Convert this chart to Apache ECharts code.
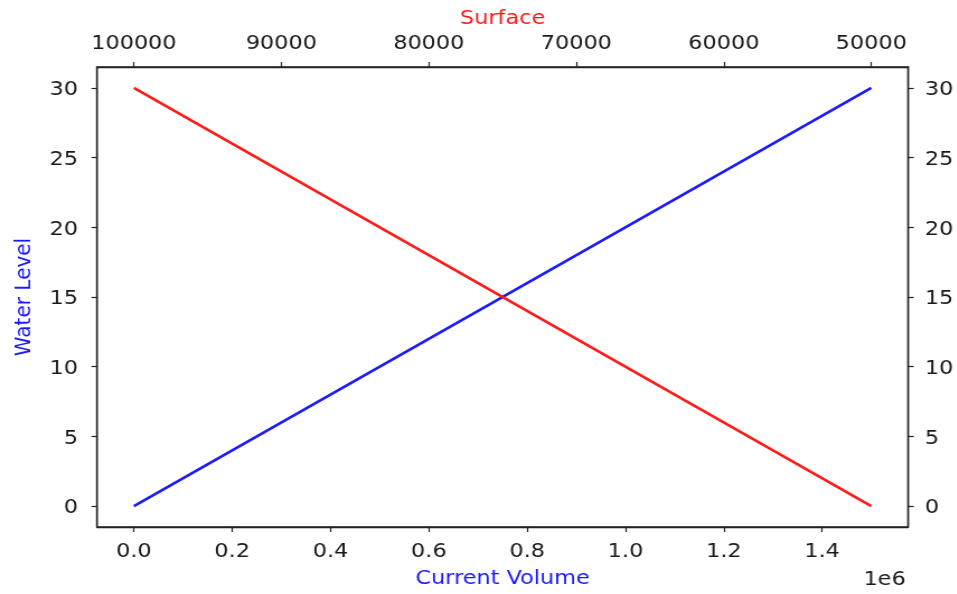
<!DOCTYPE html>
<html>
<head>
<meta charset="utf-8">
<script src="https://cdn.jsdelivr.net/npm/echarts@6/dist/echarts.min.js"></script>
<style>
  html, body { margin: 0; padding: 0; background: #fff; overflow: hidden; }
  #frame { width: 957px; height: 594px; overflow: hidden; position: relative; }
  /* drawn on a narrower canvas and widened to the 957px frame */
  #chart { width: 855px; height: 594px; transform: scaleX(1.119); transform-origin: 0 0; }
</style>
</head>
<body>
<div id="frame"><div id="chart"></div></div>
<script>
// Reservoir curves: level vs. stored volume (bottom axis) and vs. surface (top axis)
const volume = [0, 1500000];
const levelByVolume = [0, 30];
const surface = [100000, 50000];
const levelBySurface = [30, 0];

const volumeTicks = [0, 200000, 400000, 600000, 800000, 1000000, 1200000, 1400000];
const surfaceTicks = [50000, 60000, 70000, 80000, 90000, 100000];
const levelTicks = [0, 5, 10, 15, 20, 25, 30];

const FONT = 'DejaVu Sans';
const TXT = '#1a1a1a';
const BLUE = '#1a1aff';
const RED = '#ff1a1a';

const axisCommon = {
  axisLine: { show: true, onZero: false, lineStyle: { color: '#222', width: 1.4 } },
  axisTick: { show: true, inside: false, length: 5, lineStyle: { color: '#222', width: 1.2 } },
  splitLine: { show: false },
};

const chart = echarts.init(document.getElementById('chart'), null,
  { renderer: 'canvas', width: 855, height: 594 });

chart.setOption({
  backgroundColor: '#fff',
  animation: false,
  grid: { left: 86.7, right: 41.1, top: 67, bottom: 63, containLabel: false,
          show: true, borderColor: '#222', borderWidth: 1.4, backgroundColor: 'transparent' },
  xAxis: [
    Object.assign({}, axisCommon, {
      type: 'value', position: 'bottom',
      min: -75000, max: 1575000,
      name: 'Current Volume', nameLocation: 'middle', nameGap: 42,
      nameTextStyle: { color: BLUE, fontFamily: FONT, fontSize: 20 },
      axisTick: Object.assign({}, axisCommon.axisTick, { customValues: volumeTicks }),
      axisLabel: { customValues: volumeTicks, margin: 15, color: TXT, fontFamily: FONT, fontSize: 20,
                   formatter: v => (v / 1e6).toFixed(1) },
    }),
    Object.assign({}, axisCommon, {
      type: 'value', position: 'top', inverse: true,
      min: 47500, max: 102500,
      name: 'Surface', nameLocation: 'middle', nameGap: 37,
      nameTextStyle: { color: RED, fontFamily: FONT, fontSize: 20 },
      axisTick: Object.assign({}, axisCommon.axisTick, { customValues: surfaceTicks }),
      axisLabel: { customValues: surfaceTicks, margin: 13, color: TXT, fontFamily: FONT, fontSize: 20,
                   formatter: v => String(v) },
    }),
  ],
  yAxis: [
    Object.assign({}, axisCommon, {
      type: 'value', position: 'left',
      min: -1.5, max: 31.5,
      name: 'Water Level', nameLocation: 'middle', nameGap: 55,
      nameTextStyle: { color: BLUE, fontFamily: FONT, fontSize: 20 },
      axisTick: Object.assign({}, axisCommon.axisTick, { customValues: levelTicks }),
      axisLabel: { customValues: levelTicks, margin: 17, color: TXT, fontFamily: FONT, fontSize: 20,
                   verticalAlign: 'top', padding: [-8, 0, 0, 0] },
    }),
    Object.assign({}, axisCommon, {
      type: 'value', position: 'right',
      min: -1.5, max: 31.5,
      axisTick: Object.assign({}, axisCommon.axisTick, { customValues: levelTicks }),
      axisLabel: { customValues: levelTicks, margin: 15, color: TXT, fontFamily: FONT, fontSize: 20,
                   verticalAlign: 'top', padding: [-8, 0, 0, 0] },
    }),
  ],
  graphic: [
    { type: 'text', right: 45.6, top: 570,
      style: { text: '1e6', fill: TXT, font: '20px "DejaVu Sans"' } },
  ],
  series: [
    {
      type: 'line', xAxisIndex: 0, yAxisIndex: 0,
      data: volume.map((v, i) => [v, levelByVolume[i]]),
      showSymbol: false, lineStyle: { color: BLUE, width: 2.5 }, z: 3,
    },
    {
      type: 'line', xAxisIndex: 1, yAxisIndex: 0,
      data: surface.map((s, i) => [s, levelBySurface[i]]),
      showSymbol: false, lineStyle: { color: RED, width: 2.5 }, z: 4,
    },
  ],
});
</script>
</body>
</html>
